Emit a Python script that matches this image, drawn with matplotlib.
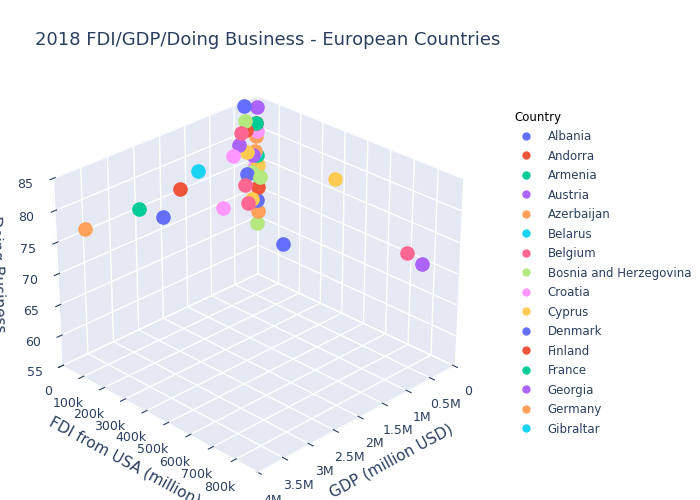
import matplotlib
matplotlib.use('Agg')
import matplotlib.pyplot as plt
from matplotlib.lines import Line2D

# 2018 values
countries = ['Albania', 'Andorra', 'Armenia', 'Austria', 'Azerbaijan', 'Belarus', 'Belgium',
             'Bosnia and Herzegovina', 'Croatia', 'Cyprus', 'Denmark', 'Finland', 'France',
             'Georgia', 'Germany', 'Gibraltar', 'Greece', 'Hungary', 'Iceland', 'Ireland',
             'Italy', 'Latvia', 'Lithuania', 'Luxembourg', 'Malta', 'Moldova', 'Netherlands',
             'Norway', 'Poland', 'Portugal', 'Romania', 'Russia', 'Serbia', 'Slovakia',
             'Slovenia', 'Spain', 'Sweden', 'Switzerland', 'Turkey', 'Ukraine', 'United Kingdom']
gdp = [15000, 3200, 12400, 455000, 47000, 60000, 532000, 20000, 60000, 24000, 352000, 275000,
       2780000, 16000, 3950000, 2500, 218000, 157000, 26000, 380000, 2080000, 34000, 53000,
       70000, 14000, 11000, 914000, 434000, 586000, 238000, 240000, 1660000, 50000, 106000,
       54000, 1420000, 556000, 705000, 771000, 131000, 2860000]
fdi_usa = [100, 0, 50, 12000, 1500, 50, 60000, 50, 300, 6000, 15000, 3000, 90000, 400,
           130000, 0, 2500, 8000, 1000, 440000, 30000, 200, 300, 760000, 1800, 10, 860000,
           38000, 13000, 3000, 2500, 13000, 300, 1000, 200, 40000, 45000, 170000, 4500,
           1000, 750000]
doing_business = [67.7, 70, 75.4, 78.6, 78.6, 75.8, 73, 63.8, 73.6, 73.8, 84.6, 80.4, 77.3,
                  83.3, 79, 72, 68.1, 73.1, 79.3, 79.2, 72.7, 80.6, 80.8, 69.6, 66, 73.5,
                  76, 82.8, 77.3, 76.6, 72.9, 75.5, 73.1, 75.6, 76.1, 78, 81.3, 76.6, 69.1,
                  68.3, 82.7]

palette = ['#636EFA', '#EF553B', '#00CC96', '#AB63FA', '#FFA15A',
           '#19D3F3', '#FF6692', '#B6E880', '#FF97FF', '#FECB52']
colors = [palette[i % len(palette)] for i in range(len(countries))]

fig = plt.figure(figsize=(7, 5), dpi=100)
ax = fig.add_axes([0.0, 0.0, 0.72, 0.88], projection='3d')
pane = (0.898, 0.914, 0.957, 1.0)
for a in (ax.xaxis, ax.yaxis, ax.zaxis):
    a.set_pane_color(pane)
    a._axinfo['grid']['color'] = 'white'
    a._axinfo['grid']['linewidth'] = 1.0
    a.line.set_color('white')

for i in range(len(countries)):
    ax.scatter(gdp[i], fdi_usa[i], doing_business[i], s=90, color=colors[i],
               alpha=1, depthshade=False)

ax.set_xlim(0, 4000000)
ax.set_ylim(0, 900000)
ax.set_zlim(55, 85)
ax.set_xticks([0, 500000, 1000000, 1500000, 2000000, 2500000, 3000000, 3500000, 4000000])
ax.set_xticklabels(['0', '0.5M', '1M', '1.5M', '2M', '2.5M', '3M', '3.5M', '4M'])
ax.set_yticks([0, 100000, 200000, 300000, 400000, 500000, 600000, 700000, 800000])
ax.set_yticklabels(['0', '100k', '200k', '300k', '400k', '500k', '600k', '700k', '800k'])
ax.set_zticks([55, 60, 65, 70, 75, 80, 85])
ax.tick_params(labelsize=9, colors='#2a3f5f')
ax.set_xlabel('GDP (million USD)', color='#2a3f5f', fontsize=11)
ax.set_ylabel('FDI from USA (million)', color='#2a3f5f', fontsize=11)
ax.set_zlabel('Doing Business', color='#2a3f5f', fontsize=11)
ax.view_init(elev=28, azim=45)

fig.text(0.05, 0.91, '2018 FDI/GDP/Doing Business - European Countries',
         fontsize=13, color='#2a3f5f')

handles = [Line2D([], [], marker='o', linestyle='', color=colors[i], markersize=5,
                  label=countries[i]) for i in range(16)]
fig.legend(handles=handles, title='Country', loc='upper left', bbox_to_anchor=(0.72, 0.80),
           frameon=False, fontsize=8.5, title_fontsize=8.5, labelspacing=0.55,
           alignment='left', labelcolor='#2a3f5f')

fig.savefig('out.png')
